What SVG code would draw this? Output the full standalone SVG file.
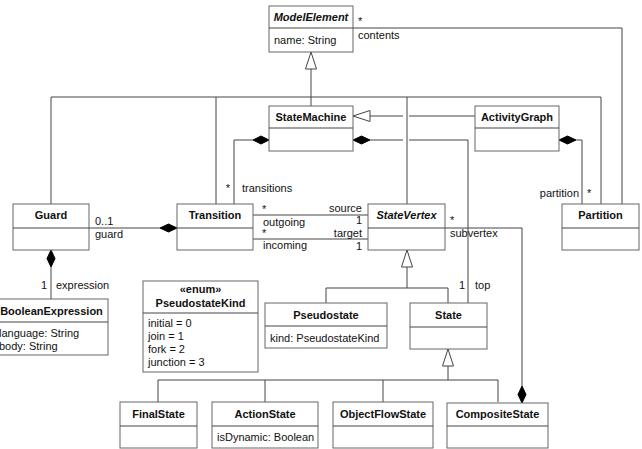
<svg xmlns="http://www.w3.org/2000/svg" width="642" height="449" viewBox="0 0 642 449">
<defs>
<style>
.box{fill:#fff;stroke:#666;stroke-width:1}
.t{font-family:"Liberation Sans",Arial,sans-serif;font-size:11px;fill:#111}
.b{font-weight:bold;text-anchor:middle}
.bi{font-weight:bold;font-style:italic;text-anchor:middle}
.m{text-anchor:middle}
.e{text-anchor:end}
.ln{fill:none;stroke:#444;stroke-width:1}
.tri{fill:#fff;stroke:#444;stroke-width:1}
.dia{fill:#000;stroke:#000;stroke-width:1}
</style>
</defs>
<rect width="642" height="449" fill="#fff"/>
<g id="connectors">
<!-- generalization to ModelElement -->
<path class="ln" d="M311,69V97M51,97H601M51,97V204M216,97V204M311,97V106M407,97V204M601,97V204"/>
<polygon class="tri" points="311,52 305.5,69 316.5,69"/>
<!-- contents -->
<path class="ln" d="M353,28H622V204"/>
<text class="t" x="358" y="25">*</text>
<text class="t" x="358" y="39">contents</text>
<!-- ActivityGraph -> StateMachine -->
<path class="ln" d="M370,116H403M409,116H475"/>
<polygon class="tri" points="353,116 370,110.5 370,121.5"/>
<!-- top -->
<path class="ln" d="M370,140H403M409,140H468V303"/>
<polygon class="dia" points="353,140 361.5,136 370,140 361.5,144"/>
<text class="t e" x="465" y="289">1</text>
<text class="t" x="475" y="289">top</text>
<!-- transitions -->
<path class="ln" d="M253,140H234V204"/>
<polygon class="dia" points="269,140 261,136 253,140 261,144"/>
<text class="t e" x="230" y="192">*</text>
<text class="t" x="242" y="192">transitions</text>
<!-- partition -->
<path class="ln" d="M576,140H582V204"/>
<polygon class="dia" points="559,140 567.5,136 576,140 567.5,144"/>
<text class="t e" x="579" y="197">partition</text>
<text class="t" x="587" y="197">*</text>
<!-- guard -->
<path class="ln" d="M160,228H89"/>
<polygon class="dia" points="177,228 168.5,224 160,228 168.5,232"/>
<text class="t" x="95" y="225">0..1</text>
<text class="t" x="95" y="238">guard</text>
<!-- expression -->
<path class="ln" d="M51,267V299"/>
<polygon class="dia" points="51,250 47,258.5 51,267 55,258.5"/>
<text class="t e" x="47" y="289">1</text>
<text class="t" x="56" y="289">expression</text>
<!-- outgoing / source -->
<path class="ln" d="M253,215H368M253,239H368"/>
<text class="t" x="262" y="213">*</text>
<text class="t" x="263" y="226">outgoing</text>
<text class="t" x="262" y="237">*</text>
<text class="t" x="263" y="249">incoming</text>
<text class="t e" x="362" y="212">source</text>
<text class="t e" x="362" y="224">1</text>
<text class="t e" x="362" y="237">target</text>
<text class="t e" x="362" y="250">1</text>
<!-- subvertex -->
<path class="ln" d="M445,228H522V386"/>
<polygon class="dia" points="522,403 518,394.5 522,386 526,394.5"/>
<text class="t" x="450" y="224">*</text>
<text class="t" x="450" y="237">subvertex</text>
<!-- StateVertex generalization -->
<path class="ln" d="M407,267V288M326,288H448M326,288V303M448,288V303"/>
<polygon class="tri" points="407,250 401.5,267 412.5,267"/>
<!-- State generalization -->
<path class="ln" d="M448,366V380M158,380H498M158,380V402M265,380V402M383,380V402M498,380V402"/>
<polygon class="tri" points="448,349 442.5,366 453.5,366"/>
</g>
<g id="ModelElement">
<rect class="box" x="269" y="6" width="84" height="46"/><path class="ln" d="M269,28H353"/>
<text class="t bi" x="311" y="21">ModelElement</text>
<text class="t" x="274" y="44">name: String</text>
</g>
<g id="StateMachine">
<rect class="box" x="269" y="106" width="84" height="45"/><path class="ln" d="M269,128H353"/>
<text class="t b" x="311" y="121">StateMachine</text>
</g>
<g id="ActivityGraph">
<rect class="box" x="475" y="106" width="84" height="45"/><path class="ln" d="M475,128H559"/>
<text class="t b" x="517" y="121">ActivityGraph</text>
</g>
<g id="Guard">
<rect class="box" x="13" y="204" width="76" height="46"/><path class="ln" d="M13,228H89"/>
<text class="t b" x="51" y="219">Guard</text>
</g>
<g id="Transition">
<rect class="box" x="177" y="204" width="76" height="46"/><path class="ln" d="M177,228H253"/>
<text class="t b" x="215" y="219">Transition</text>
</g>
<g id="StateVertex">
<rect class="box" x="368" y="204" width="77" height="46"/><path class="ln" d="M368,228H445"/>
<text class="t bi" x="406.5" y="219">StateVertex</text>
</g>
<g id="Partition">
<rect class="box" x="562" y="204" width="77" height="46"/><path class="ln" d="M562,228H639"/>
<text class="t b" x="600.5" y="219">Partition</text>
</g>
<g id="BooleanExpression">
<rect class="box" x="-5" y="299" width="113" height="56"/><path class="ln" d="M-5,322H108"/>
<text class="t b" x="51.5" y="315">BooleanExpression</text>
<text class="t" x="-1" y="337">language: String</text>
<text class="t" x="-1" y="350">body: String</text>
</g>
<g id="PseudostateKind">
<rect class="box" x="143" y="281" width="115" height="91"/><path class="ln" d="M143,313H258"/>
<text class="t b" x="200.5" y="293">«enum»</text>
<text class="t b" x="200.5" y="307">PseudostateKind</text>
<text class="t" x="148" y="327">initial = 0</text>
<text class="t" x="148" y="340">join = 1</text>
<text class="t" x="148" y="353">fork = 2</text>
<text class="t" x="148" y="366">junction = 3</text>
</g>
<g id="Pseudostate">
<rect class="box" x="265" y="303" width="122" height="45"/><path class="ln" d="M265,326H387"/>
<text class="t b" x="326" y="319">Pseudostate</text>
<text class="t" x="270" y="342">kind: PseudostateKind</text>
</g>
<g id="State">
<rect class="box" x="410" y="303" width="77" height="46"/><path class="ln" d="M410,327H487"/>
<text class="t b" x="448.5" y="319">State</text>
</g>
<g id="FinalState">
<rect class="box" x="120" y="402" width="77" height="46"/><path class="ln" d="M120,426H197"/>
<text class="t b" x="158.5" y="418">FinalState</text>
</g>
<g id="ActionState">
<rect class="box" x="212" y="402" width="106" height="46"/><path class="ln" d="M212,426H318"/>
<text class="t b" x="265" y="418">ActionState</text>
<text class="t" x="217" y="441">isDynamic: Boolean</text>
</g>
<g id="ObjectFlowState">
<rect class="box" x="333" y="402" width="100" height="46"/><path class="ln" d="M333,426H433"/>
<text class="t b" x="383" y="418">ObjectFlowState</text>
</g>
<g id="CompositeState">
<rect class="box" x="447" y="403" width="101" height="45"/><path class="ln" d="M447,426H548"/>
<text class="t b" x="497.5" y="418">CompositeState</text>
</g>
</svg>
